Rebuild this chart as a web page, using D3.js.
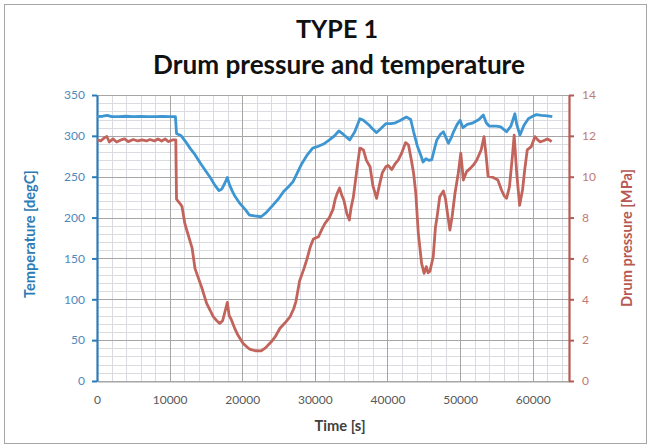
<!DOCTYPE html>
<html><head><meta charset="utf-8">
<script src="https://cdn.jsdelivr.net/npm/d3@7"></script>
<style>html,body{margin:0;padding:0;background:#fff;} svg{display:block;font-family:Lato,"Open Sans",sans-serif;}</style>
</head><body>
<script>
// ---- data ----
const titleLines = ["TYPE 1", "Drum pressure and temperature"];
const xTicks = [0, 10000, 20000, 30000, 40000, 50000, 60000];
const tempTicks = [0, 50, 100, 150, 200, 250, 300, 350];
const pressTicks = [0, 2, 4, 6, 8, 10, 12, 14];

const tempTime = [0,800,1400,2000,3000,4000,5000,6000,7000,8000,9000,10000,10800,10950,11600,12200,12800,13500,14200,14900,15600,16200,16800,17200,17600,17950,18250,18600,19000,19700,20400,21000,21700,22600,23300,24200,25000,25700,26400,27000,27600,28200,28900,29700,30400,31200,32000,32700,33300,33900,34800,35500,36200,36700,37500,38000,38500,39100,39800,40500,41100,41800,42600,43200,43600,44100,44600,44900,45300,45700,46100,46500,46800,47300,47700,48100,48400,48800,49100,49600,50000,50400,51000,51800,52600,53200,53600,54000,55000,55600,56400,57000,57550,57800,58250,58800,59400,60000,60500,61200,62000,62700];
const tempValues = [323.5,324,325,323.5,323.5,324,323.5,323.8,323.5,323.5,323.8,323.5,323.5,303,300,293,285,277,267,258,249,240,233,235,242,249,240,233,226,217,210,203,202,201,206,215,223,232,238,244,255,266,276,285,287,290,295,300,306,302,295,305,321,319,313,308,304,309,315,315,316,319,323,320,305,288,276,268,272,270,271,285,295,302,305,297,291,298,305,314,319,310,314,316,320,325.5,316,312,312,311,305,312,327,314,301,313,321,324,326,325,324.5,323.5];

const pressTime = [0,500,1000,1350,1700,2200,2700,3300,3800,4300,5000,5600,6200,6800,7300,7900,8400,8900,9400,9800,10400,10850,10950,11400,11700,12100,12600,13100,13500,14000,14400,15100,15600,16000,16500,16900,17300,17700,17950,18200,18500,19000,19400,20100,20700,21100,21800,22600,23200,24000,24600,25200,25900,26600,27100,27400,27900,28500,28900,29400,29800,30500,31000,31400,32000,32500,32800,33100,33400,33700,34000,34400,34750,35000,35300,35700,36000,36200,36500,36700,37100,37600,38000,38500,38900,39300,39800,40100,40600,41000,41500,41950,42500,42900,43300,43600,43900,44250,44700,45050,45350,45600,45850,46300,46600,46800,47200,47700,48000,48200,48600,48900,49300,49750,50100,50450,50900,51400,51900,52300,52900,53300,53600,53850,54500,55200,55700,56100,56400,56800,57200,57450,57800,58200,58600,58900,59250,59800,60300,60700,61000,61500,62000,62300,62600];
const pressValues = [11.8,11.75,11.9,11.97,11.7,11.85,11.7,11.8,11.85,11.72,11.82,11.75,11.8,11.75,11.82,11.75,11.85,11.75,11.85,11.72,11.8,11.8,8.9,8.7,8.55,7.7,7.1,6.5,5.5,5.0,4.6,3.8,3.45,3.15,2.95,2.82,2.95,3.5,3.85,3.2,3.0,2.55,2.25,1.85,1.65,1.55,1.48,1.47,1.62,1.92,2.2,2.58,2.85,3.15,3.55,3.9,4.9,5.5,5.95,6.6,6.95,7.06,7.45,7.72,8.0,8.4,8.9,9.2,9.45,9.1,8.85,8.2,7.88,8.5,9.0,10.1,10.9,11.4,11.35,11.3,10.8,10.49,9.55,8.94,9.6,10.2,10.5,10.55,10.35,10.6,10.82,11.15,11.67,11.55,10.8,10.17,9.19,7.23,5.76,5.27,5.6,5.3,5.38,6.08,7.5,7.95,9.02,9.3,8.9,8.37,7.39,8.04,9.19,10.17,11.15,9.84,10.25,10.41,10.6,10.82,11.31,11.96,10.98,10.03,9.97,9.84,9.35,9.05,8.94,9.5,10.98,12.04,10.17,8.6,9.35,10.33,11.31,11.47,11.96,11.8,11.71,11.76,11.85,11.8,11.71];

// ---- layout ----
const W = 651, H = 448;
const L = 97, R = 569, T = 95, B = 381;
const blue = "#3d96d2", red = "#c2635c";

const svg = d3.select("body").append("svg").attr("width", W).attr("height", H);
svg.append("rect").attr("x",4.5).attr("y",4.5).attr("width",642).attr("height",439)
  .attr("fill","#fff").attr("stroke","#a6a6a6").attr("stroke-width",1);

const x = d3.scaleLinear().domain([0, 65000]).range([L, R]);
const yT = d3.scaleLinear().domain([0, 350]).range([B, T]);
const yP = d3.scaleLinear().domain([0, 14]).range([B, T]);

// grid
const g = svg.append("g");
g.selectAll(".vmin").data(d3.range(0, 65001, 2000)).join("line")
  .attr("x1", d => Math.round(x(d))+0.5).attr("x2", d => Math.round(x(d))+0.5)
  .attr("y1", T).attr("y2", B)
  .attr("stroke", d => d % 10000 === 0 ? "#a6a6a6" : "#d9dbe0").attr("stroke-width",1);
g.selectAll(".hmin").data(d3.range(0, 351, 10)).join("line")
  .attr("x1", L).attr("x2", R)
  .attr("y1", d => Math.round(yT(d))+0.5).attr("y2", d => Math.round(yT(d))+0.5)
  .attr("stroke", d => d % 50 === 0 ? "#a6a6a6" : "#d9dbe0").attr("stroke-width",1);
g.selectAll(".vmaj").data(d3.range(0, 65001, 10000)).join("line")
  .attr("x1", d => Math.round(x(d))+0.5).attr("x2", d => Math.round(x(d))+0.5)
  .attr("y1", T).attr("y2", B).attr("stroke","#a6a6a6");
g.selectAll(".hmaj").data(tempTicks).join("line")
  .attr("x1", L).attr("x2", R)
  .attr("y1", d => Math.round(yT(d))+0.5).attr("y2", d => Math.round(yT(d))+0.5)
  .attr("stroke","#a6a6a6");

// x axis
const xAxis = svg.append("g").attr("transform", `translate(0,${B+0.5})`)
  .call(d3.axisBottom(x).tickValues(xTicks).tickSize(0).tickPadding(14).tickFormat(d3.format("d")));
xAxis.select(".domain").attr("stroke","#a6a6a6");
xAxis.selectAll("text").attr("fill","#595959").style("font-size","12px").style("font-family","Lato");

// left axis
const lAxis = svg.append("g").attr("transform", `translate(${L},0)`)
  .call(d3.axisLeft(yT).tickValues(tempTicks).tickSize(5).tickSizeOuter(0).tickPadding(7));
lAxis.select(".domain").attr("stroke","#2c7bb6").attr("stroke-width",2.2);
lAxis.selectAll(".tick line").attr("stroke","#2c7bb6").attr("stroke-width",2);
lAxis.selectAll("text").attr("fill","#5089ba").style("font-size","12px").style("font-family","Lato");

// right axis
const rAxis = svg.append("g").attr("transform", `translate(${R},0)`)
  .call(d3.axisRight(yP).tickValues(pressTicks).tickSize(5).tickSizeOuter(0).tickPadding(8));
rAxis.select(".domain").attr("stroke","#b85853").attr("stroke-width",2.2);
rAxis.selectAll(".tick line").attr("stroke","#b85853").attr("stroke-width",2);
rAxis.selectAll("text").attr("fill","#c27a74").style("font-size","12px").style("font-family","Lato");

// lines
const tempData = tempTime.map((t,i)=>[t,tempValues[i]]);
const pressData = pressTime.map((t,i)=>[t,pressValues[i]]);
svg.append("path").datum(tempData).attr("fill","none").attr("stroke",blue).attr("stroke-width",2.8)
  .attr("stroke-linejoin","round").attr("d", d3.line().x(d=>x(d[0])).y(d=>yT(d[1])));
svg.append("path").datum(pressData).attr("fill","none").attr("stroke",red).attr("stroke-width",2.8)
  .attr("stroke-linejoin","round").attr("d", d3.line().x(d=>x(d[0])).y(d=>yP(d[1])));

// text helper: fit font size to target width
function fitText(sel, target) {
  let fs = parseFloat(sel.style("font-size"));
  const w = sel.node().getComputedTextLength();
  if (w > 0) sel.style("font-size", (fs * target / w).toFixed(2) + "px");
}

const t1 = svg.append("text").attr("x",337).attr("y",38).attr("text-anchor","middle")
  .style("font-family","Lato").style("font-weight","bold").style("font-size","22px").attr("fill","#111").text(titleLines[0]);
fitText(t1, 82);
const t2 = svg.append("text").attr("x",339).attr("y",74).attr("text-anchor","middle")
  .style("font-family","Lato").style("font-weight","bold").style("font-size","22px").attr("fill","#111").text(titleLines[1]);
fitText(t2, 372);

const xt = svg.append("text").attr("x",340).attr("y",431).attr("text-anchor","middle")
  .style("font-family","Lato").style("font-weight","bold").style("font-size","13px").attr("fill","#404040").text("Time [s]");
fitText(xt, 51);

const lt = svg.append("text").attr("transform","translate(35,234) rotate(-90)").attr("text-anchor","middle")
  .style("font-family","Lato").style("font-weight","bold").style("font-size","13px").attr("fill","#2c7bb6").text("Temperature [degC]");
fitText(lt, 128);
const rt = svg.append("text").attr("transform","translate(632,238) rotate(-90)").attr("text-anchor","middle")
  .style("font-family","Lato").style("font-weight","bold").style("font-size","13px").attr("fill","#b85853").text("Drum pressure [MPa]");
fitText(rt, 138);
</script>
</body></html>
